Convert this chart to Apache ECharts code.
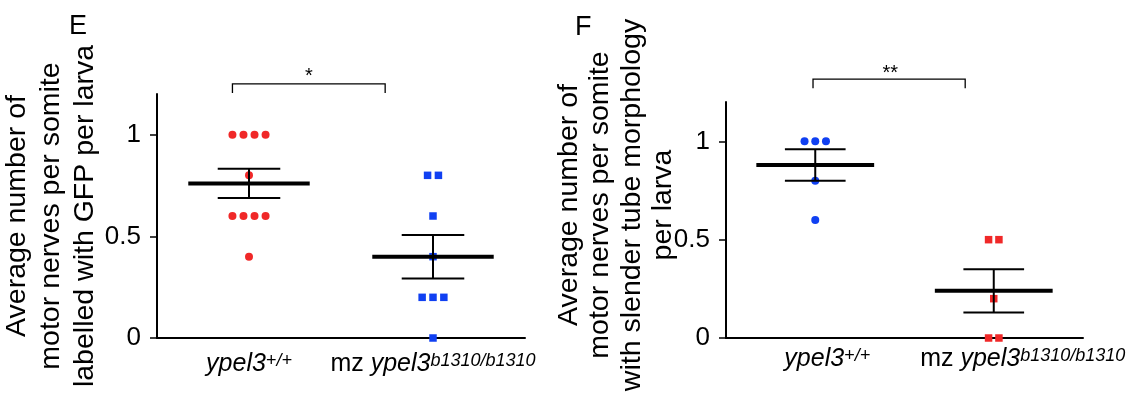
<!DOCTYPE html>
<html>
<head>
<meta charset="utf-8">
<script src="https://cdn.jsdelivr.net/npm/echarts@6/dist/echarts.min.js"></script>
<style>
  html, body { margin: 0; padding: 0; background: #fff; }
  #chart { width: 1140px; height: 402px; }
</style>
</head>
<body>
<div id="chart"></div>
<script>
// groups (category positions 1 and 3 on the hidden 0..4 value axis)
const groups = ['ypel3+/+', 'mz ypel3b1310/b1310']
const yTicks = [0, 0.5, 1]

// panel E: motor nerves labelled with GFP
const wtE = [1, 1, 1, 1, 0.8, 0.6, 0.6, 0.6, 0.6, 0.4]
const mzE = [0.8, 0.8, 0.6, 0.4, 0.2, 0.2, 0.2, 0]
const meanE = [0.76, 0.40]
const semE = [0.072, 0.107]

// panel F: slender tube morphology
const wtF = [1, 1, 1, 0.8, 0.6]
const mzF = [0.5, 0.5, 0.2, 0, 0]
const meanF = [0.88, 0.24]
const semF = [0.08, 0.11]

const RED = '#f02828'
const BLUE = '#1040f2'
const FONT = '"Liberation Sans", Arial, Helvetica, sans-serif'

// spread equal values side by side, like the prism dot plot
function swarm(values, centre, step) {
  const counts = {}
  values.forEach(v => { counts[v] = (counts[v] || 0) + 1 })
  const seen = {}
  return values.map(v => {
    const i = seen[v] || 0
    seen[v] = i + 1
    return [centre + (i - (counts[v] - 1) / 2) * step, v]
  })
}

const errorBars = (params, api) => {
  const x = api.value(0), m = api.value(1), s = api.value(2)
  const c = api.coord([x, m])
  const up = api.coord([x, m + s])[1]
  const lo = api.coord([x, m - s])[1]
  const ml = api.coord([x - 0.66, m])[0], mr = api.coord([x + 0.66, m])[0]
  const cl = api.coord([x - 0.34, m])[0], cr = api.coord([x + 0.34, m])[0]
  const st = { stroke: '#000', lineWidth: 2 }
  return {
    type: 'group',
    children: [
      { type: 'line', shape: { x1: c[0], y1: up, x2: c[0], y2: lo }, style: st },
      { type: 'line', shape: { x1: cl, y1: up, x2: cr, y2: up }, style: st },
      { type: 'line', shape: { x1: cl, y1: lo, x2: cr, y2: lo }, style: st },
      { type: 'line', shape: { x1: ml, y1: c[1], x2: mr, y2: c[1] }, style: { stroke: '#000', lineWidth: 4 } }
    ]
  }
}

// significance bracket: [x left, x right, y top, y legs, star x, star y, text]
const bracket = (b) => (params, api) => {
  const p1 = api.coord([b[0], b[3]]), p2 = api.coord([b[0], b[2]])
  const p3 = api.coord([b[1], b[2]]), p4 = api.coord([b[1], b[3]])
  const t = api.coord([b[4], b[5]])
  return {
    type: 'group',
    children: [
      { type: 'polyline', shape: { points: [p1, p2, p3, p4] }, style: { stroke: '#000', lineWidth: 1.3, fill: null } },
      { type: 'text', x: t[0], y: t[1], style: { text: b[6], font: '20px ' + FONT, fill: '#000', align: 'center', verticalAlign: 'middle' } }
    ]
  }
}

const richLabel = {
  i: { fontSize: 25, fontStyle: 'italic', fontFamily: FONT, color: '#000' },
  n: { fontSize: 25, fontFamily: FONT, color: '#000' },
  s: { fontSize: 18, fontStyle: 'italic', fontFamily: FONT, color: '#000', verticalAlign: 'top' }
}

function catAxis(g, margin, shift) {
  return {
    type: 'category', gridIndex: g, data: groups,
    axisLine: { lineStyle: { color: '#000', width: 2 } },
    axisTick: { alignWithLabel: true, length: 7, lineStyle: { color: '#000', width: 1.5 } },
    axisLabel: {
      interval: 0, hideOverlap: false, margin: margin,
      formatter: (v, idx) => idx === 0
        ? '{i' + (shift ? 'a' : '') + '|ypel3}{s|+/+}'
        : '{n' + (shift ? 'b' : '') + '|mz }{i|ypel3}{s|b1310/b1310}',
      rich: Object.assign({}, richLabel, shift ? {
        ia: Object.assign({}, richLabel.i, { padding: [0, 0, 0, shift[0]] }),
        nb: Object.assign({}, richLabel.n, { padding: [0, 0, 0, shift[1]] })
      } : {})
    }
  }
}

function valAxis(g, name, gap, lh, pad) {
  return {
    type: 'value', gridIndex: g, min: 0, max: 1.2,
    splitLine: { show: false },
    axisLine: { show: true, lineStyle: { color: '#000', width: 2 } },
    axisTick: { show: true, length: 7, customValues: yTicks, lineStyle: { color: '#000', width: 1.5 } },
    axisLabel: { customValues: yTicks, fontSize: 26, color: '#000', fontFamily: FONT, margin: 16 },
    name: name, nameLocation: 'middle', nameRotate: 90, nameGap: gap, nameMoveOverlap: false,
    nameTextStyle: { fontSize: 28.5, lineHeight: lh, color: '#000', fontFamily: FONT, padding: pad }
  }
}

const hiddenX = g => ({ type: 'value', gridIndex: g, min: 0, max: 4, show: false })

const chart = echarts.init(document.getElementById('chart'))
chart.setOption({
  animation: false,
  backgroundColor: '#fff',
  title: [
    { text: 'E', left: 64, top: 8, textStyle: { fontSize: 27, fontWeight: 'normal', color: '#000', fontFamily: FONT } },
    { text: 'F', left: 570, top: 9, textStyle: { fontSize: 27, fontWeight: 'normal', color: '#000', fontFamily: FONT } }
  ],
  grid: [
    { left: 157, right: 615, top: 94, bottom: 64, outerBoundsMode: 'none' },
    { left: 726, right: 57, top: 102, bottom: 64, outerBoundsMode: 'none' }
  ],
  xAxis: [catAxis(0, 14), hiddenX(0), catAxis(1, 9, [24, 58]), hiddenX(1)],
  yAxis: [
    valAxis(0, 'Average number of\nmotor nerves per somite\nlabelled with GFP per larva', 55, 34, 0),
    valAxis(1, 'Average number of\nmotor nerves per somite\nwith slender tube morphology\nper larva', 47, 31.5, [0, 0, 0, 30])
  ],
  series: [
    { type: 'scatter', xAxisIndex: 1, yAxisIndex: 0, symbol: 'circle', symbolSize: 8,
      itemStyle: { color: RED, opacity: 1 }, data: swarm(wtE, 1, 0.12) },
    { type: 'scatter', xAxisIndex: 1, yAxisIndex: 0, symbol: 'rect', symbolSize: 7.5,
      itemStyle: { color: BLUE, opacity: 1 }, data: swarm(mzE, 3, 0.118) },
    { type: 'custom', xAxisIndex: 1, yAxisIndex: 0, z: 5, renderItem: errorBars,
      data: meanE.map((m, i) => [1 + 2 * i, m, semE[i]]) },
    { type: 'custom', xAxisIndex: 1, yAxisIndex: 0, z: 5, clip: false,
      renderItem: bracket([0.82, 2.48, 1.25, 1.205, 1.65, 1.285, '*']), data: [[0, 0]] },

    { type: 'scatter', xAxisIndex: 3, yAxisIndex: 1, symbol: 'circle', symbolSize: 8,
      itemStyle: { color: BLUE, opacity: 1 }, data: swarm(wtF, 1, 0.12) },
    { type: 'scatter', xAxisIndex: 3, yAxisIndex: 1, symbol: 'rect', symbolSize: 7.5,
      itemStyle: { color: RED, opacity: 1 }, data: swarm(mzF, 3, 0.116) },
    { type: 'custom', xAxisIndex: 3, yAxisIndex: 1, z: 5, renderItem: errorBars,
      data: meanF.map((m, i) => [1 + 2 * i, m, semF[i]]) },
    { type: 'custom', xAxisIndex: 3, yAxisIndex: 1, z: 5, clip: false,
      renderItem: bracket([0.975, 2.68, 1.316, 1.27, 1.84, 1.345, '**']), data: [[0, 0]] }
  ]
})
</script>
</body>
</html>
